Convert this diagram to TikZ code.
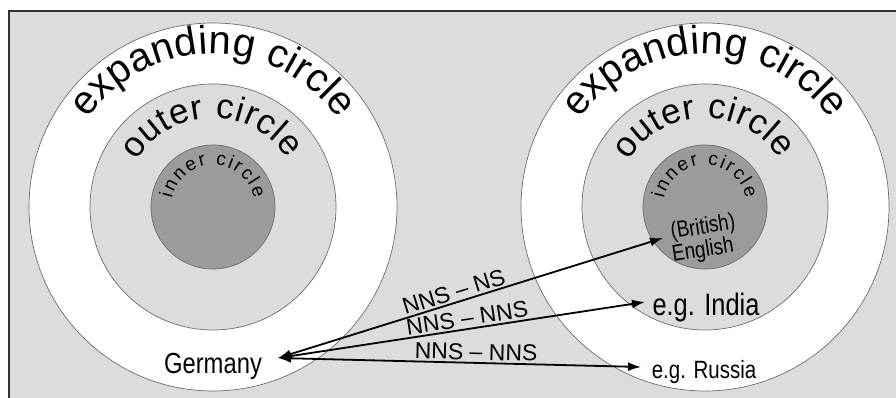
\documentclass[tikz,border=0pt]{standalone}
\usepackage{fontspec}
\usepackage{graphicx}
\setmainfont{Liberation Sans}
\usetikzlibrary{decorations.text,arrows.meta}
\definecolor{bggray}{HTML}{DCDCDC}
\definecolor{innergray}{HTML}{9B9B9B}
\definecolor{ringline}{HTML}{6E6E6E}
\newcommand\narrowtext[1]{\scalebox{0.82}[1]{#1}}
\tikzset{
  ring/.style={draw=ringline, line width=0.7pt},
  link/.style={line width=1.8pt, {Latex[length=13pt,width=9pt]}-{Latex[length=13pt,width=9pt]}},
  lbl/.style={font=\fontsize{23}{23}\selectfont, sloped, above, inner sep=2pt},
  bent/.style={decorate, decoration={text along path, text={#1}, text align=fit to path}},
  place/.style={anchor=base, inner sep=0pt},
  flat/.style={rotate=9, inner sep=0pt},
}
\begin{document}
\begin{tikzpicture}[x=1pt,y=1pt]
\useasboundingbox (0,0) rectangle (896,398);
\fill[bggray] (9,0) rectangle (896,387);
\draw[line width=1.8pt, draw=black!80] (9,0) -- (9,387) -- (896,387);
% left circles
\filldraw[ring, fill=white] (213,191) circle[radius=184pt];
\filldraw[ring, fill=bggray] (213,191) circle[radius=123pt];
\filldraw[ring, fill=innergray] (213,191) circle[radius=62pt];
% right circles
\filldraw[ring, fill=white] (705,191) circle[radius=184pt];
\filldraw[ring, fill=bggray] (705,191) circle[radius=123pt];
\filldraw[ring, fill=innergray] (705,191) circle[radius=62pt];
% curved labels, left
\path[bent={|\fontsize{40}{40}\selectfont|expanding circle}] (213,191) ++(145:153pt) arc[start angle=145, end angle=35, radius=153pt];
\path[bent={|\fontsize{35}{35}\selectfont|outer circle}] (213,191) ++(149:89pt) arc[start angle=149, end angle=33, radius=89pt];
\path[bent={|\fontsize{19}{19}\selectfont|inner circle}] (213,191) ++(168:42pt) arc[start angle=168, end angle=12, radius=42pt];
% curved labels, right
\path[bent={|\fontsize{40}{40}\selectfont|expanding circle}] (705,191) ++(145:153pt) arc[start angle=145, end angle=35, radius=153pt];
\path[bent={|\fontsize{35}{35}\selectfont|outer circle}] (705,191) ++(149:89pt) arc[start angle=149, end angle=33, radius=89pt];
\path[bent={|\fontsize{19}{19}\selectfont|inner circle}] (705,191) ++(168:42pt) arc[start angle=168, end angle=12, radius=42pt];
% bottom labels
\node[place] (germany) at (213,24) {\fontsize{29}{29}\selectfont\narrowtext{Germany}};
\node[place] (india) at (706,82) {\fontsize{31}{31}\selectfont\narrowtext{e.g. India}};
\node[place] (russia) at (704,19) {\fontsize{25}{25}\selectfont\narrowtext{e.g. Russia}};
\node[flat] (brit) at (703,170) {\fontsize{23}{23}\selectfont\narrowtext{(British)}};
\node[flat] (eng) at (703,147) {\fontsize{23}{23}\selectfont\narrowtext{English}};
% arrow end points
\coordinate (gtip) at (278,40);
\coordinate (btip) at (663,160);
\coordinate (itip) at (645,96);
\coordinate (rtip) at (641,31);
\draw[link] (gtip) -- node[lbl, pos=0.465] (l1) {NNS – NS} (btip);
\draw[link] (gtip) -- node[lbl, pos=0.52] (l2) {NNS – NNS} (itip);
\draw[link] (gtip) -- node[lbl, pos=0.545] (l3) {NNS – NNS} (rtip);
\end{tikzpicture}
\end{document}
